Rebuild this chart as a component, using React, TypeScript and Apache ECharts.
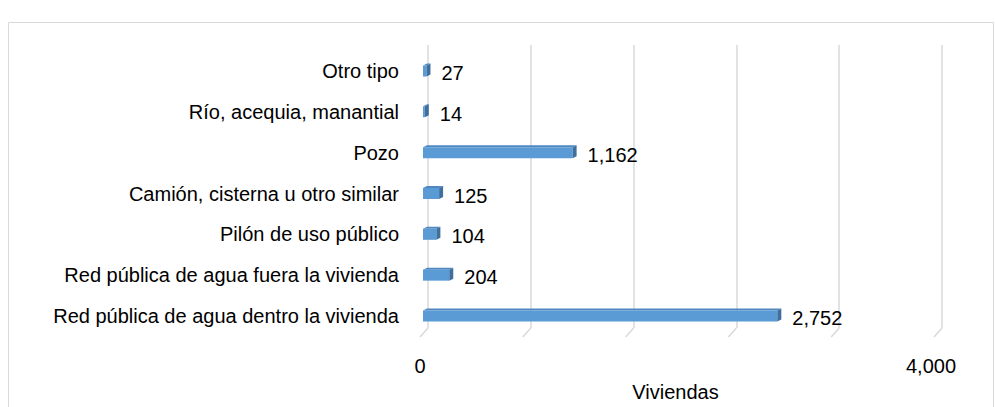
import React, { useEffect, useRef } from "react";
import * as echarts from "echarts";

// Categories listed bottom to top (ECharts category axis order)
const categories = [
  "Red pública de agua dentro la vivienda",
  "Red pública de agua fuera la vivienda",
  "Pilón de uso público",
  "Camión, cisterna u otro similar",
  "Pozo",
  "Río, acequia, manantial",
  "Otro tipo",
];
const values = [2752, 204, 104, 125, 1162, 14, 27];
const gridTicks = [0, 800, 1600, 2400, 3200, 4000];
const axisTitle = "Viviendas";

const FONT = '"Liberation Sans", Arial, sans-serif';
const FS = 20;

export default function App() {
  const ref = useRef<HTMLDivElement>(null);
  useEffect(() => {
    if (!ref.current) return;
    const chart = echarts.init(ref.current, null, { renderer: "svg" });
    const fmt = (v: number) => v.toLocaleString("en-US");
    chart.setOption({
      animation: false,
      backgroundColor: "#ffffff",
      textStyle: { fontFamily: FONT },
      graphic: [
        {
          type: "rect",
          shape: { x: 8.5, y: 22.5, width: 985, height: 420 },
          style: { fill: "none", stroke: "#d9d9d9", lineWidth: 1 },
          silent: true,
        },
      ],
      grid: [
        { left: 428, width: 514, top: 45, height: 283 },
        { left: 423, width: 515, top: 50.6, height: 285.8 },
        { left: 420, width: 511, top: 50.6, height: 285.8 },
      ],
      xAxis: [
        {
          gridIndex: 0,
          type: "value",
          min: 0,
          max: 4000,
          interval: 800,
          axisLine: { show: false },
          axisTick: { show: false },
          axisLabel: { show: false },
          splitLine: { show: true, lineStyle: { color: "#d9d9d9", width: 1.5 } },
        },
        { gridIndex: 1, type: "value", min: 0, max: 4000, show: false },
        {
          gridIndex: 2,
          type: "value",
          min: 0,
          max: 4000,
          interval: 4000,
          axisLine: { show: false },
          axisTick: { show: false },
          splitLine: { show: false },
          axisLabel: {
            margin: 21,
            fontSize: FS,
            color: "#000",
            fontFamily: FONT,
            formatter: (v: number) => fmt(v),
          },
          name: axisTitle,
          nameLocation: "middle",
          nameGap: 47,
          nameTextStyle: { fontSize: FS, color: "#000", fontFamily: FONT },
        },
      ],
      yAxis: [
        { gridIndex: 0, type: "value", min: 0, max: 1, show: false },
        {
          gridIndex: 1,
          type: "category",
          data: categories,
          axisLine: { show: false },
          axisTick: { show: false },
          splitLine: { show: false },
          axisLabel: { margin: 24, fontSize: FS, color: "#000", fontFamily: FONT },
        },
        { gridIndex: 2, type: "category", data: categories, show: false },
      ],
      series: [
        {
          type: "custom",
          xAxisIndex: 0,
          yAxisIndex: 0,
          silent: true,
          data: gridTicks.map((v) => [v, 0]),
          renderItem: (params: any, api: any) => {
            const p = api.coord([api.value(0), 0]);
            return {
              type: "line",
              shape: { x1: p[0], y1: p[1], x2: p[0] - 8, y2: p[1] + 9 },
              style: { stroke: "#d9d9d9", lineWidth: 1.5 },
            };
          },
        },
        {
          type: "custom",
          xAxisIndex: 1,
          yAxisIndex: 1,
          encode: { x: 0, y: 1 },
          data: values.map((v, i) => [v, i]),
          renderItem: (params: any, api: any) => {
            const v = api.value(0);
            const idx = api.value(1);
            const s = api.coord([0, idx]);
            const e = api.coord([v, idx]);
            const cy = s[1];
            const h = 11;
            const d = 4;
            const top = cy - h / 2;
            const bot = cy + h / 2;
            const x0 = s[0];
            const x1 = Math.max(e[0], x0 + 1);
            return {
              type: "group",
              children: [
                {
                  type: "polygon",
                  shape: {
                    points: [
                      [x0, top],
                      [x1, top],
                      [x1 + d, top - 2],
                      [x0 + d, top - 2],
                    ],
                  },
                  style: { fill: "#4f88c0" },
                },
                {
                  type: "rect",
                  shape: { x: x0, y: top, width: x1 - x0, height: h },
                  style: { fill: "#5b9bd5" },
                },
                {
                  type: "polygon",
                  shape: {
                    points: [
                      [x1, top],
                      [x1 + d, top - 2],
                      [x1 + d, bot - 2],
                      [x1, bot],
                    ],
                  },
                  style: { fill: "#3f6f9e" },
                },
                {
                  type: "text",
                  x: x1 + d + 11,
                  y: cy + 2,
                  style: {
                    text: fmt(v),
                    fill: "#000",
                    fontSize: FS,
                    fontFamily: FONT,
                    verticalAlign: "middle",
                    align: "left",
                  },
                },
              ],
            };
          },
        },
      ],
    });
    return () => chart.dispose();
  }, []);
  return (
    <div
      ref={ref}
      style={{ position: "absolute", left: 0, top: 0, width: 995, height: 407 }}
    />
  );
}
